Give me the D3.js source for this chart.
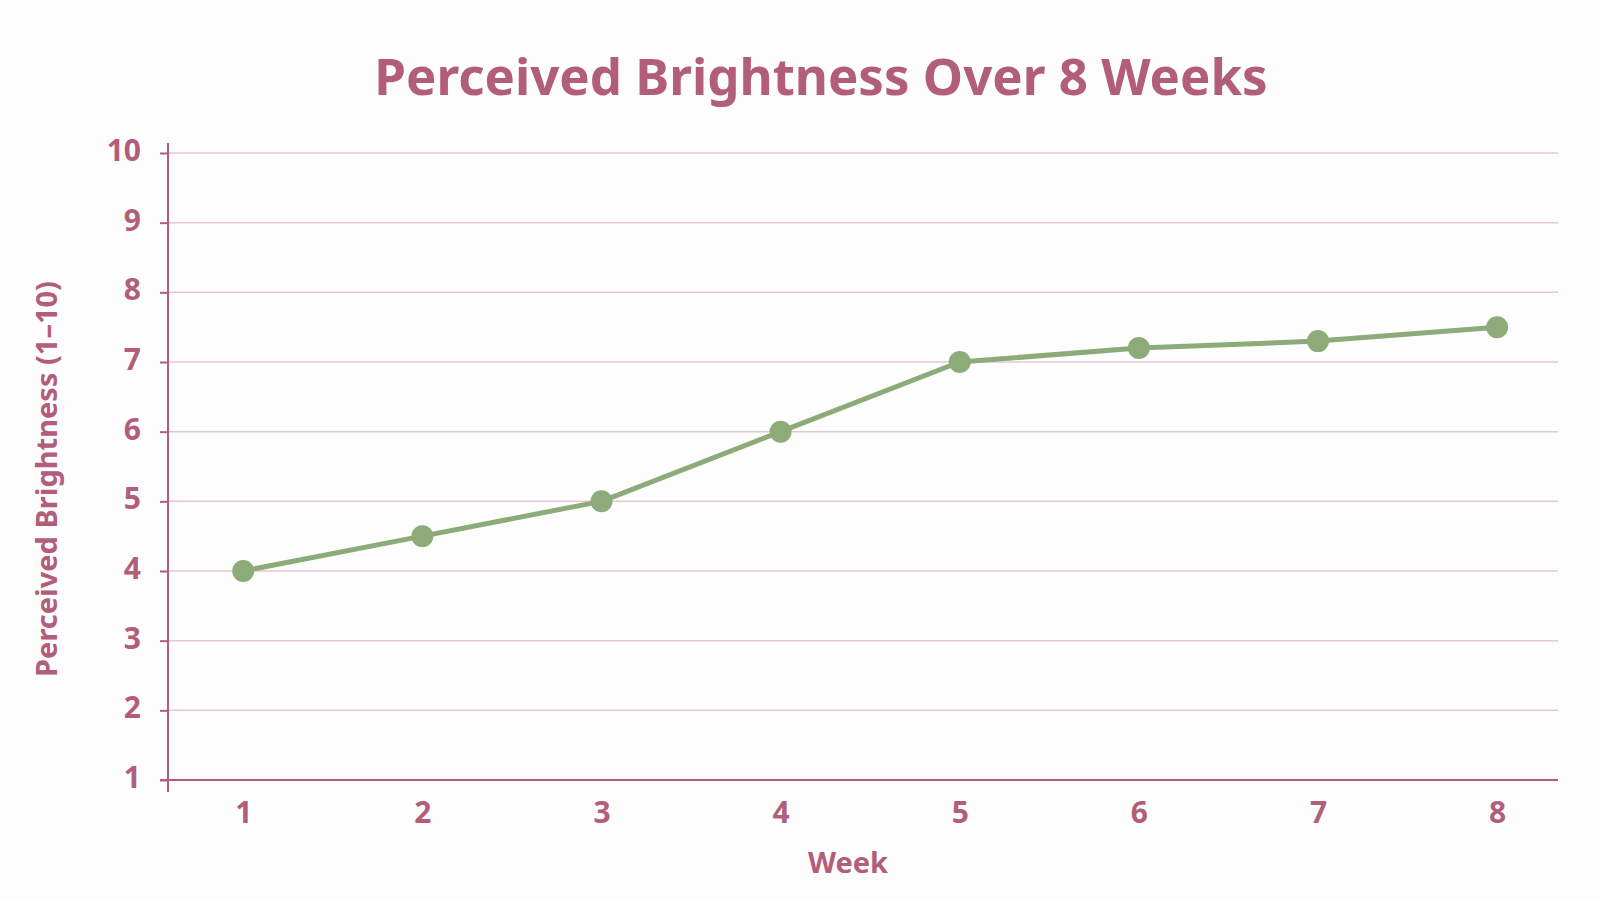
<!DOCTYPE html>
<html>
<head>
<meta charset="utf-8">
<script src="https://cdn.jsdelivr.net/npm/d3@7"></script>
<style>
  html, body { margin: 0; padding: 0; background: #fdfdfd; }
  svg { display: block; font-family: "Noto Sans", "Open Sans", sans-serif; }
</style>
</head>
<body>
<div id="chart"></div>
<script>
// data
const weeks = [1, 2, 3, 4, 5, 6, 7, 8];
const brightness = [4.0, 4.5, 5.0, 6.0, 7.0, 7.2, 7.3, 7.5];
const yTicks = [1, 2, 3, 4, 5, 6, 7, 8, 9, 10];

const width = 1599, height = 900;
const accent = '#b25e7b';
const gridColor = '#e4c8d0';
const lineColor = '#8cab79';

const svg = d3.select('#chart')
    .append('svg')
    .attr('width', width)
    .attr('height', height);

// plot area
const plot = { left: 168, right: 1558, top: 153, bottom: 780 };

const x = d3.scaleLinear()
    .domain([0.58, 8.34])
    .range([plot.left, plot.right]);

const y = d3.scaleLinear()
    .domain([1, 10])
    .range([plot.bottom, plot.top]);

// title
svg.append('text')
    .attr('x', 821)
    .attr('y', 95)
    .attr('text-anchor', 'middle')
    .attr('fill', accent)
    .attr('font-size', 51)
    .attr('font-weight', 700)
    .text('Perceived Brightness Over 8 Weeks');

// horizontal gridlines
svg.append('g')
    .selectAll('line')
    .data(yTicks.filter(d => d > 1))
    .join('line')
    .attr('x1', plot.left)
    .attr('x2', plot.right)
    .attr('y1', d => y(d))
    .attr('y2', d => y(d))
    .attr('stroke', gridColor)
    .attr('stroke-width', 1.5);

// y axis
const yAxis = svg.append('g')
    .attr('transform', `translate(${plot.left},0)`)
    .call(d3.axisLeft(y).tickValues(yTicks).tickSize(8).tickPadding(19).tickFormat(d3.format('d')));
yAxis.select('.domain').remove();
yAxis.selectAll('.tick line').attr('stroke', accent).attr('stroke-width', 2);
yAxis.selectAll('.tick text')
    .attr('dy', '0.25em')
    .attr('fill', accent)
    .attr('font-size', 30)
    .attr('font-weight', 700)
    .attr('font-family', '"Noto Sans", sans-serif');

// vertical axis line, runs a little past both ends
svg.append('line')
    .attr('x1', plot.left).attr('x2', plot.left)
    .attr('y1', plot.top - 10).attr('y2', plot.bottom + 12)
    .attr('stroke', accent)
    .attr('stroke-width', 2);

// x axis
const xAxis = svg.append('g')
    .attr('transform', `translate(0,${plot.bottom})`)
    .call(d3.axisBottom(x).tickValues(weeks).tickSize(0).tickPadding(22).tickFormat(d3.format('d')));
xAxis.select('.domain').remove();
xAxis.selectAll('.tick text')
    .attr('fill', accent)
    .attr('font-size', 30)
    .attr('font-weight', 700)
    .attr('font-family', '"Noto Sans", sans-serif');

svg.append('line')
    .attr('x1', plot.left - 8).attr('x2', plot.right)
    .attr('y1', plot.bottom).attr('y2', plot.bottom)
    .attr('stroke', accent)
    .attr('stroke-width', 2);

// axis titles
svg.append('text')
    .attr('x', 848)
    .attr('y', 873)
    .attr('text-anchor', 'middle')
    .attr('fill', accent)
    .attr('font-size', 29)
    .attr('font-weight', 700)
    .text('Week');

svg.append('text')
    .attr('transform', 'translate(57,479) rotate(-90)')
    .attr('text-anchor', 'middle')
    .attr('fill', accent)
    .attr('font-size', 29)
    .attr('font-weight', 700)
    .text('Perceived Brightness (1–10)');

// line + markers
const points = weeks.map((w, i) => ({ week: w, value: brightness[i] }));

const line = d3.line()
    .x(d => x(d.week))
    .y(d => y(d.value));

svg.append('path')
    .datum(points)
    .attr('fill', 'none')
    .attr('stroke', lineColor)
    .attr('stroke-width', 5)
    .attr('stroke-linejoin', 'round')
    .attr('d', line);

svg.append('g')
    .selectAll('circle')
    .data(points)
    .join('circle')
    .attr('cx', d => x(d.week))
    .attr('cy', d => y(d.value))
    .attr('r', 11)
    .attr('fill', lineColor);
</script>
</body>
</html>
